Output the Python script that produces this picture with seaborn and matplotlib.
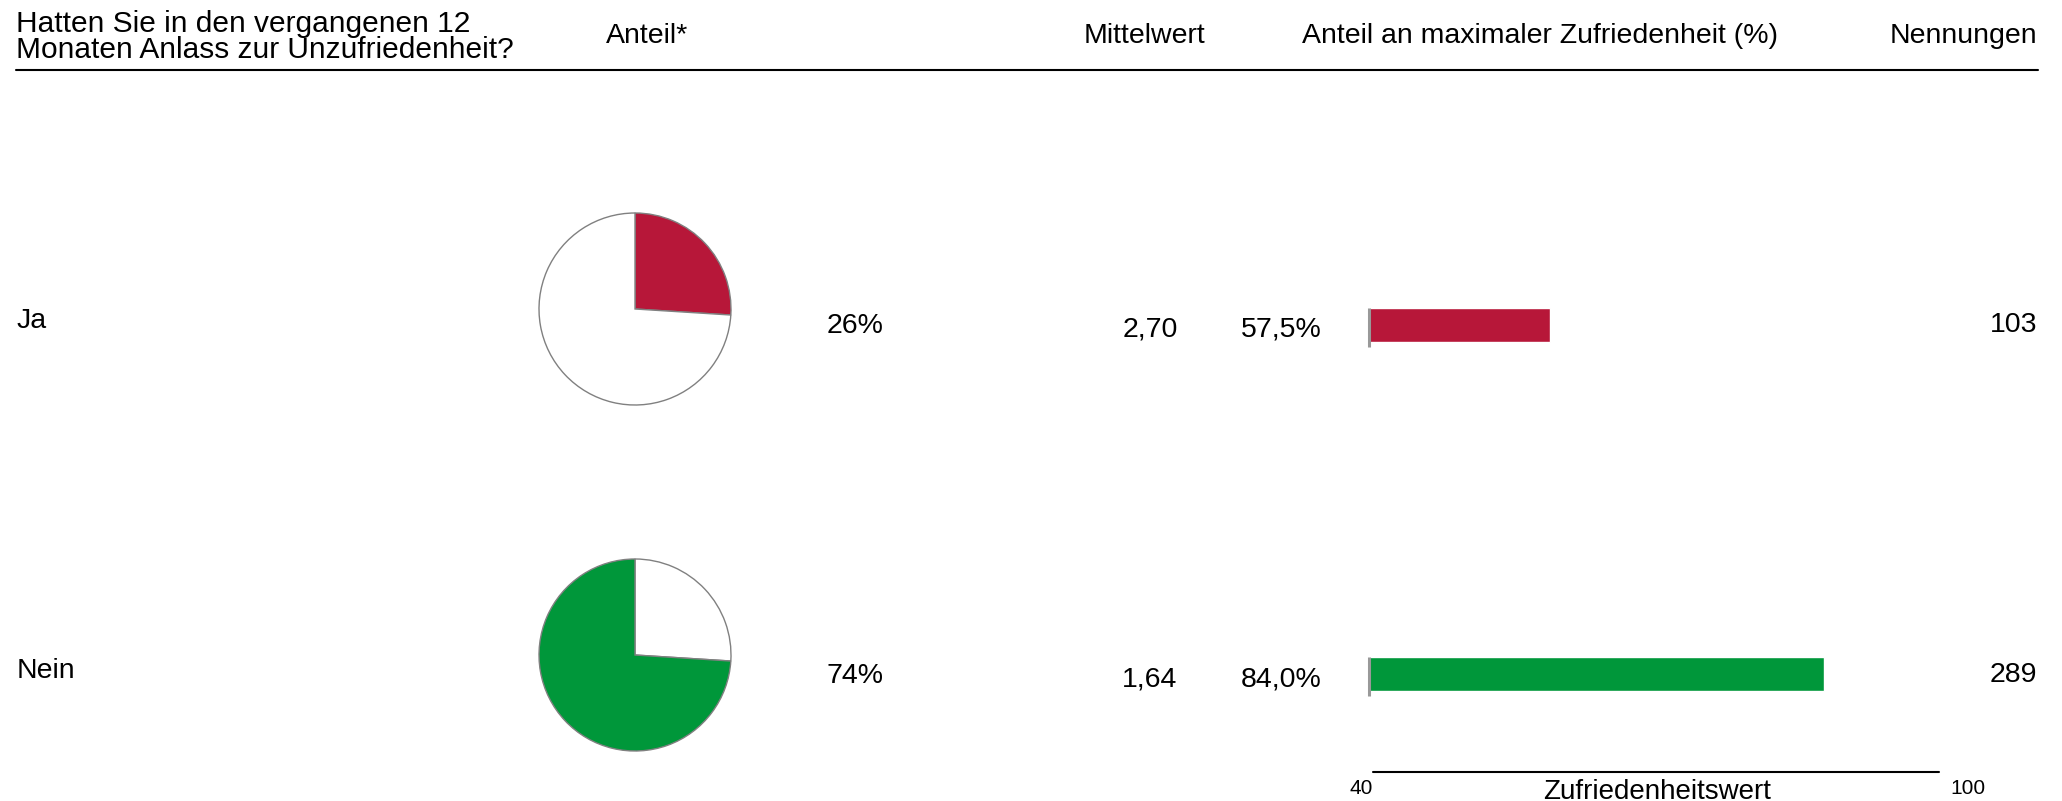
import numpy as np
import pandas as pd
import matplotlib.pyplot as plt
from matplotlib.lines import Line2D
import seaborn as sns

# Data
categories = ["Ja", "Nein"]
anteil = [26, 74]                 # share in %
mittelwert = [2.70, 1.64]
zufriedenheit = [57.5, 84.0]      # share of maximum satisfaction (%)
nennungen = [103, 289]
row_colors = ["#B71739", "#00973A"]

df = pd.DataFrame({"Antwort": categories, "Zufriedenheit": zufriedenheit})

sns.set_theme(style="white")
plt.rcParams["font.family"] = ["Liberation Sans", "DejaVu Sans"]

W, H = 2062, 801
fig = plt.figure(figsize=(W / 100, H / 100), dpi=100)


def fx(x):
    return x / W


def fy(y):
    return 1 - y / H


def txt(x, y, s, ha="left", size=20.5):
    fig.text(fx(x), fy(y), s, ha=ha, va="baseline", fontsize=size, color="black")


# Header
txt(16, 32, "Hatten Sie in den vergangenen 12", size=21.5)
txt(16, 58, "Monaten Anlass zur Unzufriedenheit?", size=21.5)
txt(647, 43, "Anteil*", ha="center")
txt(1145, 43, "Mittelwert", ha="center")
txt(1540, 43, "Anteil an maximaler Zufriedenheit (%)", ha="center")
txt(2037, 43, "Nennungen", ha="right")
fig.add_artist(Line2D([fx(16), fx(2038)], [fy(70), fy(70)], color="black", lw=1.5))

# Pies
pie_r = 96
pie_centers = [309, 655]
for i, cy in enumerate(pie_centers):
    size = 2.2 * pie_r
    ax = fig.add_axes([fx(635 - size / 2), fy(cy + size / 2), size / W, size / H])
    cols = ["white", "white"]
    cols[i] = row_colors[i]
    ax.pie([anteil[0], anteil[1]], colors=cols, startangle=90, counterclock=False,
           wedgeprops=dict(edgecolor="#808080", linewidth=1.0))
    ax.set_xlim(-1.1, 1.1)
    ax.set_ylim(-1.1, 1.1)
    ax.set_aspect("equal")
    ax.axis("off")

# Row texts
row_base = [0, 350]
for i, cat in enumerate(categories):
    d = row_base[i]
    txt(17, 328 + d, cat)
    txt(855, 333 + d, f"{anteil[i]}%", ha="center")
    txt(1150, 336 + d, f"{mittelwert[i]:.2f}".replace(".", ","), ha="center")
    txt(1281, 336 + d, f"{zufriedenheit[i]:.1f}%".replace(".", ","), ha="center")
    txt(2037, 332 + d, f"{nennungen[i]}", ha="right")

# Bars (x from 40 to 100)
x0, x1 = 1369, 1990
y_top, y_bot = 150.5, 761.25
bax = fig.add_axes([fx(x0), fy(y_bot), (x1 - x0) / W, (y_bot - y_top) / H])
bar_w = 34 / 349
sns.barplot(data=df, x="Zufriedenheit", y="Antwort", hue="Antwort",
            palette=row_colors, width=bar_w, legend=False, ax=bax, saturation=1)
bax.vlines([40] * len(categories), np.arange(len(categories)) - bar_w / 2,
           np.arange(len(categories)) + bar_w / 2 + 0.014, color="#999999", lw=2.2,
           clip_on=False, zorder=5)
bax.set_xlim(40, 100)
bax.set_ylim(1.25, -0.5)
bax.axis("off")

# Scale axis
fig.add_artist(Line2D([fx(1373), fx(1939)], [fy(772), fy(772)], color="black", lw=1.5))
txt(1373, 794, "40", ha="right", size=15)
txt(1950, 794, "100", ha="left", size=15)
txt(1657, 799, "Zufriedenheitswert", ha="center", size=20)

fig.savefig("out.png", dpi=100)
